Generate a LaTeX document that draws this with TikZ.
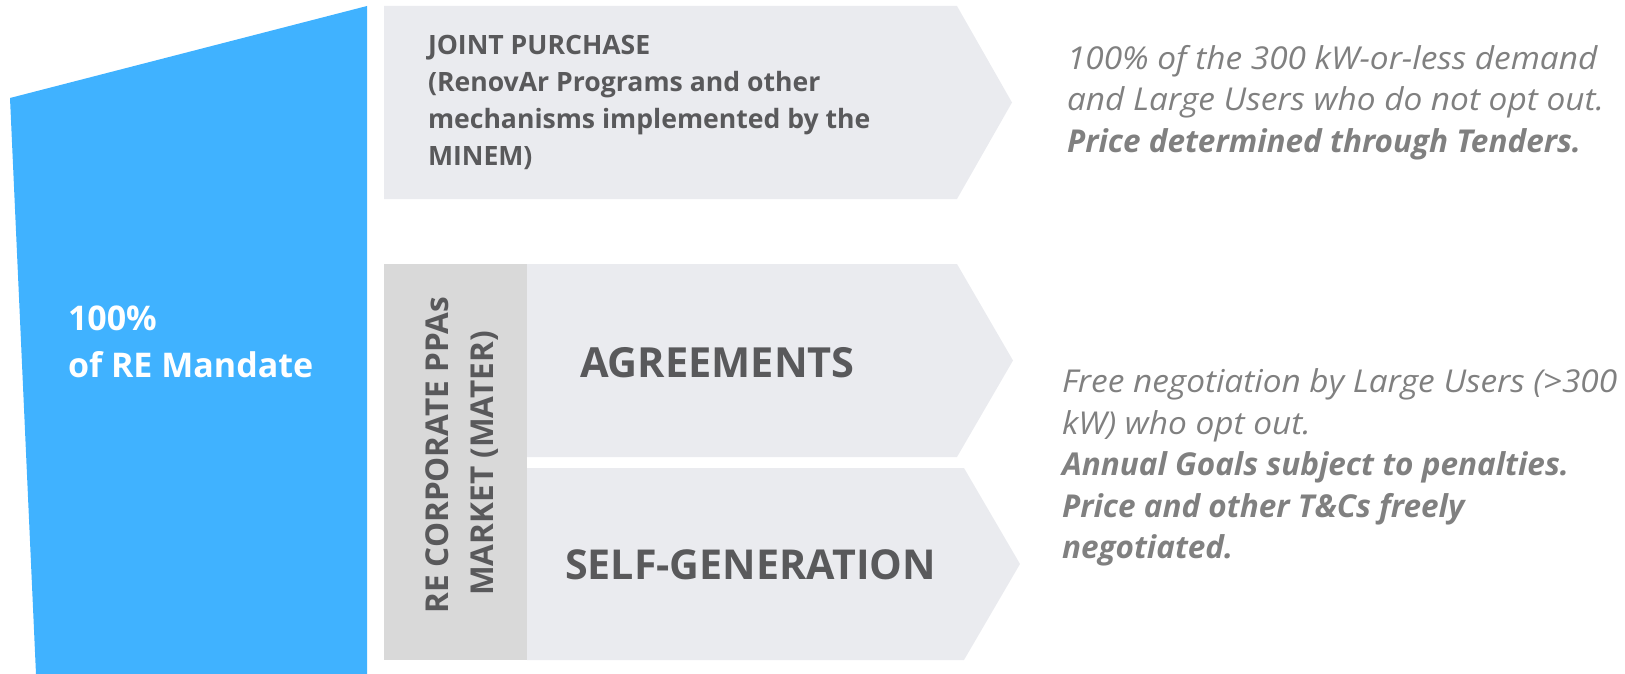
\documentclass[tikz,border=0pt]{standalone}
\usepackage{fontspec}
\setmainfont{Open Sans}
\newfontfamily\rfont[FakeStretch=1.06]{Open Sans}
\newfontfamily\rbfont{Open Sans}
\newcommand{\rb}[1]{{\rbfont\bfseries\itshape #1}}
\definecolor{blueM}{RGB}{64,178,255}
\definecolor{boxL}{RGB}{234,235,239}
\definecolor{boxD}{RGB}{217,217,217}
\definecolor{txtD}{RGB}{89,89,91}
\definecolor{txtR}{RGB}{128,128,128}
\tikzset{
  lbl/.style={inner sep=0pt, outer sep=0pt, text=txtD, font=\bfseries},
  rtxt/.style={inner sep=0pt, outer sep=0pt, text=txtR, align=left, anchor=north west,
     font=\rfont\fontsize{31.5}{41.5}\selectfont\itshape},
}
\begin{document}
\begin{tikzpicture}[x=1pt,y=-1pt]
\useasboundingbox (0,0) rectangle (1625,674);
% blue mandate shape
\fill[blueM] (10,98) -- (367,6) -- (367,674) -- (36,674) -- cycle;
% chevrons
\fill[boxL] (384,6) -- (957,6) -- (1012,102.5) -- (957,199) -- (384,199) -- cycle;
\fill[boxL] (527,264) -- (957,264) -- (1013,360.5) -- (957,457) -- (527,457) -- cycle;
\fill[boxL] (527,468) -- (964,468) -- (1020,564) -- (964,660) -- (527,660) -- cycle;
\fill[boxD] (384,264) rectangle (527,660);
% texts
\node[lbl, text=white, anchor=north west, align=left,
      font=\fontsize{34}{47}\selectfont\bfseries] (mand) at (68,305.5)
      {100\%\\of RE Mandate};
\node[lbl, anchor=north west, align=left,
      font=\fontsize{26.6}{37}\selectfont\bfseries] (joint) at (428,35.5)
      {JOINT PURCHASE\\(RenovAr Programs and other\\mechanisms implemented by the\\MINEM)};
\node[lbl, anchor=base west, font=\fontsize{41.5}{48}\selectfont\bfseries] (agr) at (580,377) {AGREEMENTS};
\node[lbl, anchor=base west, font=\fontsize{41.2}{48}\selectfont\bfseries] (selfg) at (565,579) {SELF-GENERATION};
\node[lbl, anchor=base, rotate=90, font=\fontsize{31.5}{36}\selectfont\bfseries] (corp1) at (448,455.5) {RE CORPORATE PPAs};
\node[lbl, anchor=base, rotate=90, font=\fontsize{31.5}{36}\selectfont\bfseries] (corp2) at (493,463.5) {MARKET (MATER)};
\node[rtxt] (r1) at (1067,45)
  {100\% of the 300 kW-or-less demand\\and Large Users who do not opt out.\\\rb{Price determined through Tenders.}};
\node[rtxt] (r2) at (1062,369)
  {Free negotiation by Large Users (>300\\kW) who opt out.\\\rb{Annual Goals subject to penalties.}\\\rb{Price and other T\&Cs freely}\\\rb{negotiated.}};
\end{tikzpicture}
\end{document}
